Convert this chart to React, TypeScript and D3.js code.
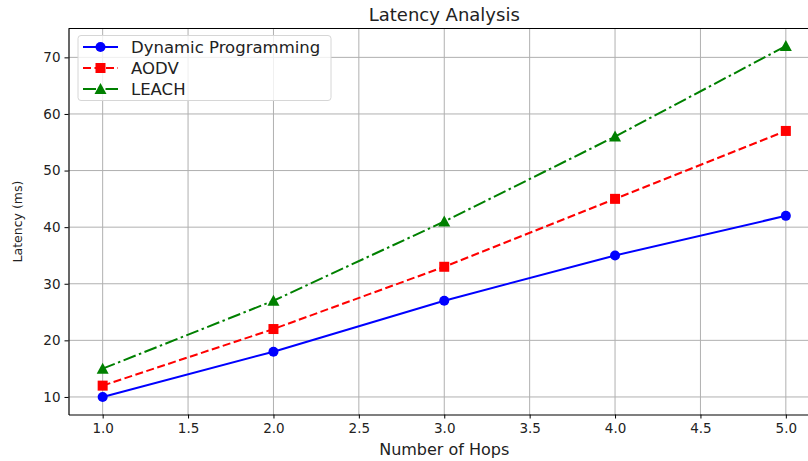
import { useEffect, useRef } from 'react';
import * as d3 from 'd3';

const hops = [1, 2, 3, 4, 5];
const dynamicProgramming = [10, 18, 27, 35, 42];
const aodv = [12, 22, 33, 45, 57];
const leach = [15, 27, 41, 56, 72];
const xTicks = [1.0, 1.5, 2.0, 2.5, 3.0, 3.5, 4.0, 4.5, 5.0];
const yTicks = [10, 20, 30, 40, 50, 60, 70];
const seriesNames = ['Dynamic Programming', 'AODV', 'LEACH'];

const App = () => {
  const ref = useRef<HTMLDivElement>(null);

  useEffect(() => {
    d3.select(ref.current).selectAll('*').remove();

    const width = 808; const height = 461;
    const left = 68.5; const right = 820; const top = 28.5; const bottom = 414.5;
    const font = 'DejaVu Sans, sans-serif';

    const series = [
      { name: seriesNames[0], values: dynamicProgramming, color: '#0000ff', dash: null, marker: 'circle' },
      { name: seriesNames[1], values: aodv, color: '#ff0000', dash: '8,3.5', marker: 'square' },
      { name: seriesNames[2], values: leach, color: '#008000', dash: '13,3.5,2.5,3.5', marker: 'triangle' },
    ];

    const xScale = d3.scaleLinear().domain([0.8, 5.2]).range([left, right]);
    const yScale = d3.scaleLinear().domain([6.9, 75.1]).range([bottom, top]);

    const svg = d3.select(ref.current)
      .append('svg')
      .attr('width', width)
      .attr('height', height)
      .style('position', 'absolute')
      .style('left', '0px')
      .style('top', '0px')
      .style('background', '#fff');

    // grid
    svg.append('g').selectAll('line')
      .data(xTicks)
      .enter()
      .append('line')
      .attr('x1', d => xScale(d)).attr('x2', d => xScale(d))
      .attr('y1', top).attr('y2', bottom)
      .attr('stroke', '#b0b0b0').attr('stroke-width', 1);

    svg.append('g').selectAll('line')
      .data(yTicks)
      .enter()
      .append('line')
      .attr('x1', left).attr('x2', right)
      .attr('y1', d => yScale(d)).attr('y2', d => yScale(d))
      .attr('stroke', '#b0b0b0').attr('stroke-width', 1);

    // axes
    svg.append('g')
      .attr('transform', `translate(0, ${bottom})`)
      .call(d3.axisBottom(xScale).tickValues(xTicks).tickSizeInner(4).tickSizeOuter(0).tickPadding(5).tickFormat(d3.format('.1f')))
      .call(g => g.select('.domain').attr('stroke', '#000').attr('stroke-width', 1.2))
      .call(g => g.selectAll('text').attr('font-family', font).attr('font-size', 13.5).attr('fill', '#222'));

    svg.append('g')
      .attr('transform', `translate(${left}, 0)`)
      .call(d3.axisLeft(yScale).tickValues(yTicks).tickSizeInner(4).tickSizeOuter(0).tickPadding(4))
      .call(g => g.select('.domain').attr('stroke', '#000').attr('stroke-width', 1.2))
      .call(g => g.selectAll('text').attr('font-family', font).attr('font-size', 13.5).attr('fill', '#222'));

    svg.append('line')
      .attr('x1', left).attr('x2', right)
      .attr('y1', top).attr('y2', top)
      .attr('stroke', '#000').attr('stroke-width', 1.2);

    // lines
    const line = d3.line<number>()
      .x((d, i) => xScale(hops[i]))
      .y(d => yScale(d));

    const drawMarker = (g: any, type: string, x: number, y: number, color: string) => {
      if (type === 'circle') {
        g.append('circle').attr('cx', x).attr('cy', y).attr('r', 5).attr('fill', color);
      } else if (type === 'square') {
        g.append('rect').attr('x', x - 5).attr('y', y - 5).attr('width', 10).attr('height', 10).attr('fill', color);
      } else {
        g.append('path')
          .attr('d', `M${x},${y - 6} L${x + 6},${y + 5} L${x - 6},${y + 5} Z`)
          .attr('fill', color);
      }
    };

    series.forEach(s => {
      const g = svg.append('g');
      g.append('path')
        .datum(s.values)
        .attr('d', line)
        .attr('fill', 'none')
        .attr('stroke', s.color)
        .attr('stroke-width', 2)
        .attr('stroke-dasharray', s.dash);
      s.values.forEach((v, i) => drawMarker(g, s.marker, xScale(hops[i]), yScale(v), s.color));
    });

    // title and labels
    svg.append('text')
      .text('Latency Analysis')
      .attr('x', (left + right) / 2)
      .attr('y', 21)
      .attr('text-anchor', 'middle')
      .attr('font-family', font)
      .attr('font-size', 18)
      .attr('fill', '#222');

    svg.append('text')
      .text('Number of Hops')
      .attr('x', (left + right) / 2)
      .attr('y', 455)
      .attr('text-anchor', 'middle')
      .attr('font-family', font)
      .attr('font-size', 16)
      .attr('fill', '#222');

    svg.append('text')
      .text('Latency (ms)')
      .attr('transform', `translate(22, ${(top + bottom) / 2}) rotate(-90)`)
      .attr('text-anchor', 'middle')
      .attr('font-family', font)
      .attr('font-size', 12.5)
      .attr('fill', '#222');

    // legend
    const legend = svg.append('g');
    legend.append('rect')
      .attr('x', 78).attr('y', 35.5)
      .attr('width', 253).attr('height', 65)
      .attr('rx', 3)
      .attr('fill', 'rgba(255,255,255,0.8)')
      .attr('stroke', '#d6d6d6');

    series.forEach((s, i) => {
      const y = 47 + i * 21;
      legend.append('line')
        .attr('x1', 83).attr('x2', 118)
        .attr('y1', y).attr('y2', y)
        .attr('stroke', s.color)
        .attr('stroke-width', 2)
        .attr('stroke-dasharray', s.dash);
      drawMarker(legend, s.marker, 100.5, y, s.color);
      legend.append('text')
        .text(s.name)
        .attr('x', 131)
        .attr('y', y + 5.5)
        .attr('font-family', font)
        .attr('font-size', 16.5)
        .attr('fill', '#222');
    });
  }, []);

  return <div ref={ref}></div>;
};

export default App;
